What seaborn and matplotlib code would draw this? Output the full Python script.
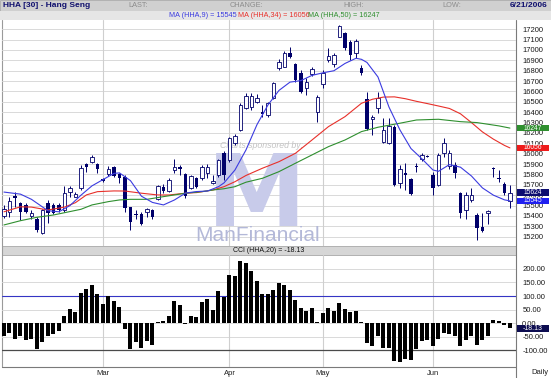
import numpy as np
import pandas as pd
import matplotlib
matplotlib.use("Agg")
import matplotlib.pyplot as plt
import seaborn as sns
from matplotlib.patches import Rectangle

# daily candles, HHA, early Feb - 21 Jun 2006 (93 sessions)
opens = [15403, 15442, 15596, 15522, 15506, 15400, 15374, 15233, 15528, 15506,
         15506, 15458, 15634, 15586, 15667, 15901, 15924, 15901, 15753, 15802,
         15876, 15802, 15779, 15484, 15419, 15419, 15442, 15458, 15561, 15683,
         15644, 15843, 15869, 15802, 15667, 15763, 15763, 15811, 15715, 15795,
         16011, 15940, 16100, 16229, 16438, 16448, 16503, 16406, 16374, 16535,
         16824, 16840, 16975, 16866, 16782, 16631, 16769, 16406, 16673, 16904,
         16866, 17129, 17161, 17081, 16969, 16824, 16525, 16332, 16438, 16117,
         16107, 16262, 15715, 15818, 15754, 15876, 15947, 15979, 15795, 15699,
         16004, 15882, 15892, 15619, 15458, 15554, 15410, 15291, 15426, 15860,
         15763, 15709, 15540]
highs = [15506, 15586, 15634, 15538, 15522, 15458, 15393, 15464, 15554, 15522,
         15522, 15689, 15689, 15634, 15892, 15914, 15988, 15914, 15763, 15882,
         15882, 15811, 15795, 15490, 15458, 15442, 15474, 15464, 15699, 15708,
         15763, 15946, 15892, 15811, 15795, 15779, 15892, 15901, 15795, 15946,
         16030, 16165, 16190, 16486, 16583, 16589, 16577, 16470, 16503, 16695,
         16911, 16994, 17033, 16879, 16808, 16728, 16840, 16567, 16808, 17017,
         16969, 17242, 17177, 17097, 17104, 16856, 16599, 16374, 16599, 16342,
         16342, 16278, 15892, 15908, 15763, 15908, 16004, 15985, 15828, 16004,
         16149, 16036, 15924, 15635, 15635, 15667, 15432, 15426, 15458, 15869,
         15844, 15731, 15699]
lows = [15377, 15393, 15490, 15361, 15426, 15368, 15249, 15226, 15329, 15419,
        15442, 15442, 15586, 15580, 15651, 15827, 15908, 15811, 15731, 15786,
        15779, 15721, 15442, 15265, 15368, 15313, 15393, 15368, 15554, 15618,
        15634, 15811, 15795, 15570, 15657, 15667, 15747, 15763, 15708, 15779,
        15747, 15924, 16084, 16223, 16428, 16422, 16487, 16358, 16358, 16525,
        16808, 16834, 16920, 16695, 16589, 16567, 16750, 16310, 16631, 16888,
        16840, 17123, 17001, 16904, 16920, 16760, 16229, 16181, 16390, 16107,
        16094, 15689, 15667, 15651, 15603, 15828, 15934, 15972, 15603, 15689,
        15972, 15850, 15763, 15378, 15368, 15538, 15169, 15249, 15323, 15779,
        15731, 15603, 15474]
closes = [15467, 15548, 15570, 15442, 15442, 15432, 15265, 15458, 15432, 15432,
          15458, 15618, 15667, 15612, 15860, 15876, 15972, 15850, 15737, 15850,
          15786, 15770, 15474, 15345, 15410, 15323, 15464, 15393, 15689, 15644,
          15747, 15869, 15850, 15590, 15786, 15683, 15869, 15876, 15740, 15940,
          15795, 16149, 16171, 16470, 16557, 16557, 16535, 16384, 16487, 16679,
          16888, 16975, 16930, 16711, 16599, 16695, 16814, 16544, 16782, 16943,
          16952, 17232, 17017, 16952, 17091, 16782, 16236, 16358, 16535, 16229,
          16268, 15699, 15850, 15795, 15612, 15869, 15988, 15972, 15667, 15988,
          16101, 16004, 15818, 15426, 15603, 15603, 15281, 15259, 15452, 15853,
          15757, 15619, 15624]

# moving averages (bar index, value)
ma9_bars = [0, 3, 5, 8, 10, 12, 14, 16, 18, 20, 21, 23, 25, 27, 29, 31, 33, 35, 37,
            39, 40, 42, 44, 46, 48, 50, 52, 54, 56, 58, 60, 62, 64, 65, 66, 68, 70,
            72, 74, 76, 78, 79, 81, 83, 85, 87, 89, 91, 92]
ma9_vals = [15630, 15610, 15560, 15450, 15440, 15500, 15600, 15690, 15750, 15810,
            15815, 15740, 15590, 15530, 15506, 15554, 15620, 15635, 15640, 15682,
            15718, 15843, 16036, 16280, 16470, 16610, 16690, 16705, 16755, 16780,
            16800, 16870, 16920, 16910, 16880, 16740, 16450, 16229, 16050, 15950,
            15843, 15830, 15895, 15870, 15785, 15670, 15600, 15555, 15545]
ma34_bars = [0, 3, 5, 8, 11, 13, 15, 17, 20, 22, 25, 28, 30, 33, 35, 38, 40, 42, 44,
             47, 50, 53, 56, 59, 62, 65, 67, 69, 71, 73, 75, 77, 79, 81, 83, 85, 87,
             89, 91, 92]
ma34_vals = [15440, 15488, 15485, 15457, 15485, 15528, 15603, 15634, 15641, 15640,
             15619, 15602, 15602, 15619, 15625, 15650, 15682, 15730, 15790, 15860,
             15923, 16004, 16132, 16261, 16357, 16486, 16525, 16546, 16548, 16530,
             16505, 16483, 16460, 16436, 16385, 16300, 16210, 16140, 16080, 16056]
ma50_bars = [0, 3, 6, 9, 11, 14, 16, 19, 21, 23, 26, 29, 33, 36, 38, 40, 42, 44, 47,
             50, 53, 56, 59, 62, 65, 68, 72, 75, 79, 83, 86, 90, 92]
ma50_vals = [15313, 15354, 15387, 15409, 15431, 15464, 15506, 15538, 15554, 15560,
             15560, 15586, 15619, 15634, 15650, 15662, 15682, 15725, 15763, 15827,
             15908, 15988, 16068, 16132, 16213, 16255, 16294, 16325, 16332, 16309,
             16300, 16268, 16247]

# CCI(20)
cci = [-46, -34, -58, -46, -60, -58, -96, -70, -48, -40, -28, 28, 54, 42, 111, 127,
       141, 108, 70, 102, 81, 60, -22, -96, -70, -90, -66, -78, 6, 8, 27, 81, 66,
       -4, 28, 24, 78, 90, 48, 118, 96, 178, 175, 229, 222, 193, 157, 108, 106, 124,
       148, 139, 124, 84, 57, 46, 57, 6, 39, 57, 46, 76, 52, 42, 45, 6, -72, -82,
       -48, -90, -90, -139, -142, -130, -135, -96, -66, -63, -84, -58, -34, -39,
       -48, -82, -60, -48, -78, -63, -46, 12, 8, -8, -18.13]

month_bars = [18, 41, 58, 78]
month_names = ["Mar", "Apr", "May", "Jun"]
price_ticks = list(range(15200, 17201, 100))
cci_ticks = [-100, -50, 0, 50, 100, 150, 200]

df = pd.DataFrame({"open": opens, "high": highs, "low": lows, "close": closes})
df["bar"] = np.arange(len(df))

NAVY = "#00006a"
BLUE = "#3b3be0"
RED = "#e8302a"
GREEN = "#2f8f2f"

sns.set_style("white")
plt.rcParams["font.family"] = ["Liberation Sans", "DejaVu Sans"]

W, H = 551, 378
fig = plt.figure(figsize=(W / 100, H / 100), dpi=100)
fig.patch.set_facecolor("white")


def box(x0, y0, x1, y1):
    return [x0 / W, 1 - y1 / H, (x1 - x0) / W, (y1 - y0) / H]


# background frame, header bars
bg = fig.add_axes([0, 0, 1, 1], zorder=-1)
bg.set_xlim(0, W)
bg.set_ylim(H, 0)
bg.axis("off")
bg.add_patch(Rectangle((0, 0), W, 10.5, fc="#d0d0d0", ec="#a8a8a8", lw=0.6))
bg.add_patch(Rectangle((0, 10.5), W, 9, fc="#e6e6e6", ec="none"))
bg.add_patch(Rectangle((2, 246), 514, 9, fc="#d6d6d6", ec="#a8a8a8", lw=0.6))
bg.plot([516, 516], [19.5, H], color="#7a7a7a", lw=0.8)
bg.plot([1.5, 1.5], [19.5, 367], color="#9a9a9a", lw=0.8)
bg.plot([2, 516], [367, 367], color="#7a7a7a", lw=0.8)

bg.text(3, 5.6, "HHA [30] - Hang Seng", fontsize=6, fontweight="bold", color="#10106e", va="center")
for x, s in [(128, "LAST:"), (230, "CHANGE:"), (343, "HIGH:"), (442, "LOW:")]:
    bg.text(x, 5.6, s, fontsize=5.3, color="#8c8c8c", va="center")
bg.text(548, 5.6, "6/21/2006", fontsize=6, fontweight="bold", color="#10106e", va="center", ha="right")
bg.text(169, 15.2, f"MA (HHA,9) = {ma9_vals[-1]}", fontsize=5.2, color=BLUE, va="center")
bg.text(238, 15.2, f"MA (HHA,34) = {ma34_vals[-1]}", fontsize=5.2, color=RED, va="center")
bg.text(308, 15.2, f"MA (HHA,50) = {ma50_vals[-1]}", fontsize=5.2, color=GREEN, va="center")
bg.text(233, 251, f"CCI (HHA,20) = {cci[-1]:.2f}", fontsize=5.0, color="#111111", va="center")
bg.text(540, 372.5, "Daily", fontsize=5.5, color="#222222", ha="center", va="center")

# ---- price panel
ax = fig.add_axes(box(2, 19.5, 516, 246))
ax.set_facecolor("none")
ax.set_xlim(-0.36, 93.1)
ax.set_ylim(15110, 17294)
ax.set_axisbelow(True)
ax.grid(axis="y", color="#d9d9d9", lw=0.7)
ax.grid(axis="x", visible=False)
for b in month_bars:
    ax.axvline(b, color="#cfcfcf", lw=0.8, zorder=0.6)

# watermark
ax.text(220, 146, "Charts sponsored by:", transform=bg.transData, fontsize=6.3,
        style="italic", color="#c4c4c4", va="center", zorder=1)
ax.text(257, 226, "M", transform=bg.transData, fontsize=72, fontweight="bold",
        family="DejaVu Sans", color="#c8cbea", ha="center", va="baseline", zorder=1)
ax.text(258, 241, "ManFinancial", transform=bg.transData, fontsize=15,
        family=["Liberation Sans Narrow", "Liberation Sans"], color="#b3b8d8",
        ha="center", va="baseline", zorder=1, clip_on=True)

up = df["close"] >= df["open"]
body = (df["close"] - df["open"]).abs().clip(lower=9)
ax.vlines(df["bar"], df["low"], df["high"], color=NAVY, lw=0.7, zorder=3)
ax.bar(df["bar"][up], body[up], bottom=df["open"][up], width=0.62,
       facecolor="white", edgecolor=NAVY, lw=0.6, zorder=4)
ax.bar(df["bar"][~up], body[~up], bottom=df["close"][~up], width=0.62,
       color=NAVY, lw=0, zorder=4)

sns.lineplot(x=ma34_bars, y=ma34_vals, ax=ax, color=RED, lw=0.8, zorder=5)
sns.lineplot(x=ma50_bars, y=ma50_vals, ax=ax, color=GREEN, lw=0.8, zorder=5)
sns.lineplot(x=ma9_bars, y=ma9_vals, ax=ax, color=BLUE, lw=0.8, zorder=5)

ax.yaxis.tick_right()
ax.set_yticks(price_ticks, [str(v) for v in price_ticks])
ax.tick_params(axis="y", length=0, pad=4.5, labelsize=5.5, labelcolor="#1a1a1a")
ax.set_xticks([])
ax.set_xlabel("")
ax.set_ylabel("")
for s in ax.spines.values():
    s.set_visible(False)

ytr = ax.get_yaxis_transform()
for val, col in [(ma50_vals[-1], GREEN), (ma34_vals[-1], "#ee1c1c"),
                 (closes[-1], "#0c0c70"), (ma9_vals[-1], "#2020f0")]:
    ax.add_patch(Rectangle((1.002, val - 31), 0.062, 62, transform=ytr,
                           fc=col, ec="none", clip_on=False, zorder=8))
    ax.text(1.033, val, str(val), transform=ytr, fontsize=4.8, color="white",
            ha="center", va="center", zorder=9, clip_on=False)

# ---- CCI panel
ax2 = fig.add_axes(box(2, 255, 516, 367))
ax2.set_facecolor("none")
sns.barplot(x=df["bar"], y=cci, ax=ax2, native_scale=True, orient="x",
            color="black", saturation=1, width=0.72, linewidth=0, zorder=3)
ax2.set_xlim(-0.36, 93.1)
ax2.set_ylim(-160.7, 251)
ax2.set_axisbelow(True)
ax2.grid(axis="y", color="#d9d9d9", lw=0.7)
ax2.grid(axis="x", visible=False)
for b in month_bars:
    ax2.axvline(b, color="#cfcfcf", lw=0.8, zorder=0.6)
ax2.axhline(100, color="#3434c4", lw=0.8, zorder=2)
ax2.axhline(-100, color="#4a4a4a", lw=0.9, zorder=2)

ax2.yaxis.tick_right()
ax2.set_yticks(cci_ticks, [f"{v:.2f}" for v in cci_ticks])
ax2.tick_params(axis="y", length=0, pad=4.5, labelsize=5.5, labelcolor="#1a1a1a")
ax2.set_xticks(month_bars, month_names)
ax2.tick_params(axis="x", length=0, pad=2.5, labelsize=5.5, labelcolor="#222222")
ax2.set_xlabel("")
ax2.set_ylabel("")
for s in ax2.spines.values():
    s.set_visible(False)

ytr2 = ax2.get_yaxis_transform()
ax2.add_patch(Rectangle((1.002, cci[-1] - 13), 0.062, 26, transform=ytr2,
                        fc="#0c0c50", ec="none", clip_on=False, zorder=8))
ax2.text(1.033, cci[-1], f"{cci[-1]:.2f}", transform=ytr2, fontsize=5.0,
         color="white", ha="center", va="center", zorder=9, clip_on=False)

fig.savefig("out.png", dpi=100)
